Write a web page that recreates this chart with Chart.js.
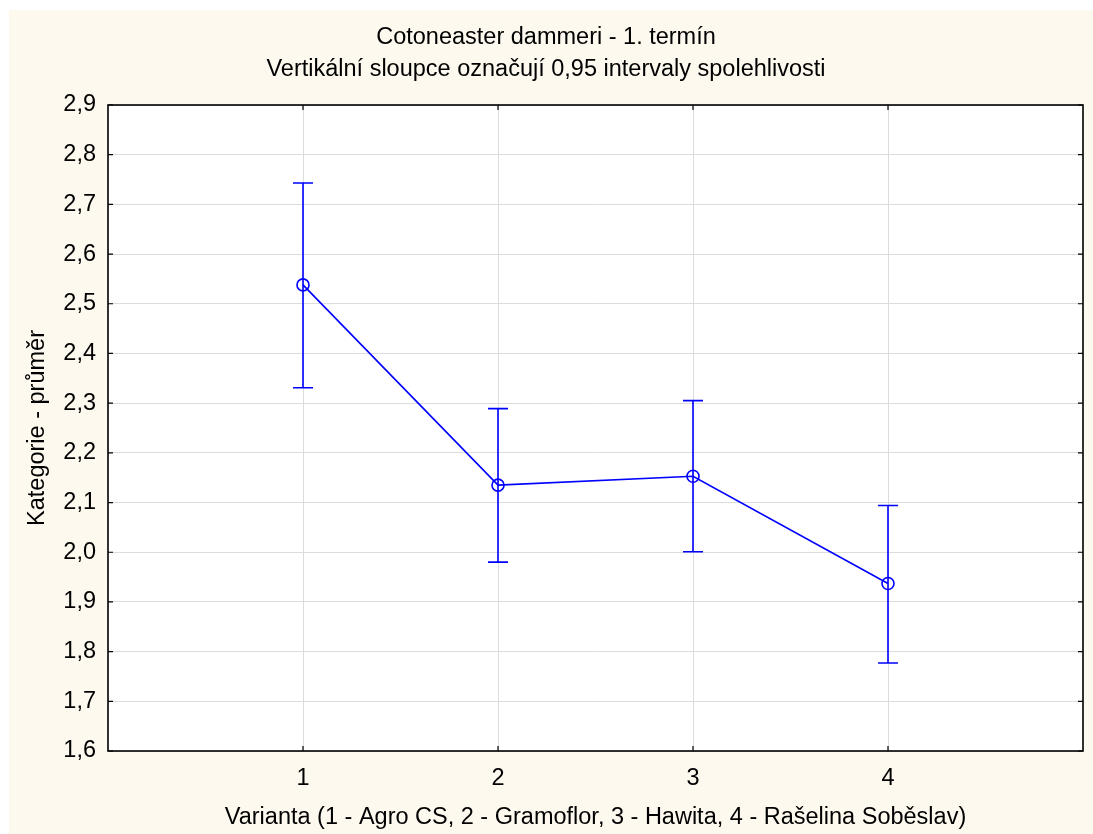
<!DOCTYPE html>
<html>
<head>
<meta charset="utf-8">
<script src="https://cdn.jsdelivr.net/npm/chart.js@4"></script>
<style>
html,body{margin:0;padding:0;background:#ffffff;}
#wrap{width:1093px;height:834px;position:relative;}
</style>
</head>
<body>
<div id="wrap"><canvas id="c" width="1093" height="834"></canvas></div>
<script>
const categories = [1, 2, 3, 4];
const means = [2.538, 2.135, 2.153, 1.937];
const lowerCI = [2.331, 1.980, 2.001, 1.777];
const upperCI = [2.743, 2.289, 2.305, 2.094];
const yTicks = [1.6, 1.7, 1.8, 1.9, 2.0, 2.1, 2.2, 2.3, 2.4, 2.5, 2.6, 2.7, 2.8, 2.9];

const titleLines = ['Cotoneaster dammeri - 1. termín', 'Vertikální sloupce označují 0,95 intervaly spolehlivosti'];
const xTitle = 'Varianta (1 - Agro CS, 2 - Gramoflor, 3 - Hawita, 4 - Rašelina Soběslav)';
const yTitle = 'Kategorie - průměr';

const FONT = "'Liberation Sans', Arial, sans-serif";
const FS = 23.5;
const BLUE = '#0000ff';

const bgPlugin = {
  id: 'bg',
  beforeDraw(chart) {
    const ctx = chart.ctx;
    ctx.save();
    ctx.fillStyle = '#fdf9ef';
    ctx.fillRect(9, 10, chart.width - 9, chart.height - 10);
    const a = chart.chartArea;
    ctx.fillStyle = '#ffffff';
    ctx.fillRect(a.left, a.top, a.right - a.left, a.bottom - a.top);
    ctx.restore();
  }
};

const errPlugin = {
  id: 'errbars',
  afterDatasetsDraw(chart) {
    const ctx = chart.ctx;
    const xs = chart.scales.x, ys = chart.scales.y;
    ctx.save();
    ctx.strokeStyle = BLUE;
    ctx.lineWidth = 1.6;
    for (let i = 0; i < categories.length; i++) {
      const x = xs.getPixelForValue(categories[i]);
      const yl = ys.getPixelForValue(lowerCI[i]);
      const yu = ys.getPixelForValue(upperCI[i]);
      ctx.beginPath();
      ctx.moveTo(x, yl); ctx.lineTo(x, yu);
      ctx.moveTo(x - 10, yl); ctx.lineTo(x + 10, yl);
      ctx.moveTo(x - 10, yu); ctx.lineTo(x + 10, yu);
      ctx.stroke();
    }
    ctx.restore();
  },
  afterDraw(chart) {
    const ctx = chart.ctx;
    const a = chart.chartArea;
    const xs = chart.scales.x, ys = chart.scales.y;
    ctx.save();
    ctx.strokeStyle = '#000000';
    ctx.lineWidth = 1.6;
    ctx.strokeRect(a.left, a.top, a.right - a.left, a.bottom - a.top);
    ctx.lineWidth = 1.2;
    ctx.beginPath();
    const L = 5;
    yTicks.forEach(v => {
      const y = ys.getPixelForValue(v);
      ctx.moveTo(a.left, y); ctx.lineTo(a.left + L, y);
      ctx.moveTo(a.right, y); ctx.lineTo(a.right - L, y);
    });
    categories.forEach(v => {
      const x = xs.getPixelForValue(v);
      ctx.moveTo(x, a.bottom); ctx.lineTo(x, a.bottom - L);
      ctx.moveTo(x, a.top); ctx.lineTo(x, a.top + L);
    });
    ctx.stroke();
    ctx.restore();
  }
};

new Chart(document.getElementById('c'), {
  type: 'line',
  data: {
    datasets: [{
      data: categories.map((c, i) => ({x: c, y: means[i]})),
      borderColor: BLUE,
      borderWidth: 1.6,
      pointRadius: 6,
      pointBorderWidth: 1.6,
      pointBorderColor: BLUE,
      pointBackgroundColor: 'rgba(255,255,255,0)',
      fill: false,
      tension: 0
    }]
  },
  options: {
    responsive: false,
    animation: false,
    events: [],
    layout: {padding: {left: 9, top: 10, right: 10, bottom: 0}},
    plugins: {
      legend: {display: false},
      tooltip: {enabled: false},
      title: {
        display: true,
        text: titleLines,
        color: '#000000',
        font: {family: FONT, size: FS, weight: 'normal', lineHeight: 32 / FS},
        padding: {top: 12, bottom: 19}
      }
    },
    scales: {
      x: {
        type: 'linear',
        min: 0, max: 5,
        afterBuildTicks(scale) { scale.ticks = categories.map(v => ({value: v})); },
        afterFit(scale) { scale.height = 83; },
        ticks: {
          color: '#000000',
          font: {family: FONT, size: FS},
          padding: 13,
          callback: v => String(v)
        },
        grid: {color: '#dcdcdc', lineWidth: 1, drawTicks: false},
        border: {display: false},
        title: {
          display: true, text: xTitle, color: '#000000',
          font: {family: FONT, size: FS}, padding: {top: 4, bottom: 2}
        }
      },
      y: {
        type: 'linear',
        min: 1.6, max: 2.9,
        afterBuildTicks(scale) { scale.ticks = yTicks.map(v => ({value: v})); },
        afterFit(scale) { scale.width = 99; },
        ticks: {
          color: '#000000',
          font: {family: FONT, size: FS},
          padding: 12,
          callback: v => v.toFixed(1).replace('.', ',')
        },
        grid: {color: '#dcdcdc', lineWidth: 1, drawTicks: false},
        border: {display: false},
        title: {
          display: true, text: yTitle, color: '#000000',
          font: {family: FONT, size: FS}, padding: {top: 14, bottom: 4}
        }
      }
    }
  },
  plugins: [bgPlugin, errPlugin]
});
</script>
</body>
</html>
